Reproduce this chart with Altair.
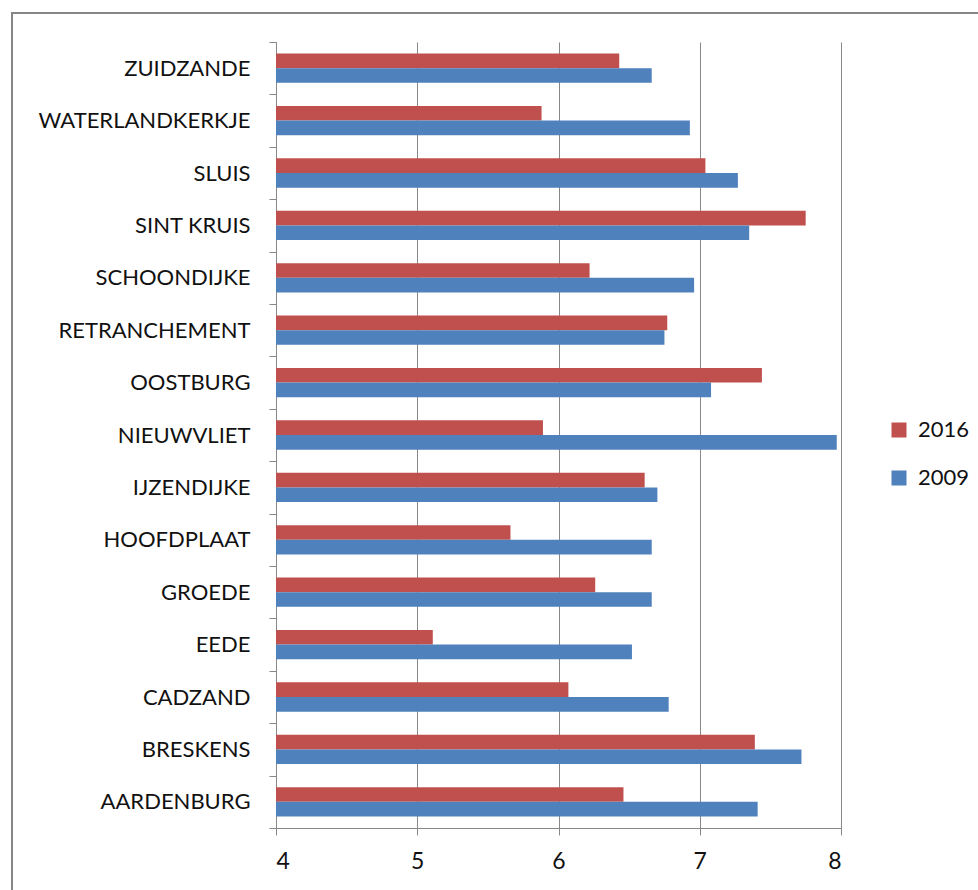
import altair as alt
import pandas as pd

places = ["ZUIDZANDE", "WATERLANDKERKJE", "SLUIS", "SINT KRUIS", "SCHOONDIJKE",
          "RETRANCHEMENT", "OOSTBURG", "NIEUWVLIET", "IJZENDIJKE", "HOOFDPLAAT",
          "GROEDE", "EEDE", "CADZAND", "BRESKENS", "AARDENBURG"]
v2016 = [6.43, 5.88, 7.04, 7.75, 6.22, 6.77, 7.44, 5.89, 6.61, 5.66, 6.26, 5.11, 6.07, 7.39, 6.46]
v2009 = [6.66, 6.93, 7.27, 7.35, 6.96, 6.75, 7.08, 7.97, 6.70, 6.66, 6.66, 6.52, 6.78, 7.72, 7.41]
years = ["2016", "2009"]
colors = ["#C0504D", "#4F81BD"]
x_ticks = [4, 5, 6, 7, 8]

rows = []
for p, a, b in zip(places, v2016, v2009):
    rows.append({"place": p, "year": "2016", "value": a})
    rows.append({"place": p, "year": "2009", "value": b})
df = pd.DataFrame(rows)

FONT = "Lato"
GRAY = "#888888"
TEXT = "#111111"

bars = alt.Chart(df).mark_bar().encode(
    y=alt.Y("place:N", sort=places,
            scale=alt.Scale(paddingInner=0, paddingOuter=0),
            axis=alt.Axis(title=None, tickBand="extent", grid=False,
                          domainColor=GRAY, tickColor=GRAY, tickSize=7,
                          labelPadding=19, labelFont=FONT, labelFontSize=22,
                          labelColor=TEXT, labelLimit=400)),
    yOffset=alt.YOffset("year:N", sort=years,
                        scale=alt.Scale(paddingInner=0, paddingOuter=0.79)),
    x=alt.X("value:Q", scale=alt.Scale(domain=[4, 8], zero=False, nice=False),
            axis=alt.Axis(title=None, values=x_ticks, grid=True, gridColor=GRAY,
                          gridOpacity=1, domainColor=GRAY, tickColor=GRAY,
                          tickSize=7, labelPadding=15, labelFont=FONT,
                          labelFontSize=23, labelColor=TEXT, format="d")),
    x2=alt.datum(4),
    color=alt.Color("year:N",
                    scale=alt.Scale(domain=years, range=colors),
                    legend=alt.Legend(title=None, orient="none", legendX=612,
                                      legendY=377, symbolType="square",
                                      symbolSize=225, symbolStrokeWidth=0,
                                      labelFont=FONT, labelFontSize=22,
                                      labelColor=TEXT, rowPadding=26,
                                      labelOffset=8)),
)

frame = alt.Chart(pd.DataFrame({"a": [0]})).mark_rect(
    fillOpacity=0, stroke="#868686", strokeWidth=2
).encode(
    x=alt.value(-264), x2=alt.value(760), y=alt.value(-29), y2=alt.value(900)
)

chart = alt.layer(bars, frame).properties(
    width=565, height=786,
    autosize=alt.AutoSizeParams(type="none"),
    padding={"left": 276, "top": 42, "right": 137, "bottom": 62},
).configure_view(stroke=None)

chart.save("out.html", embed_options={"renderer": "svg", "actions": False})
